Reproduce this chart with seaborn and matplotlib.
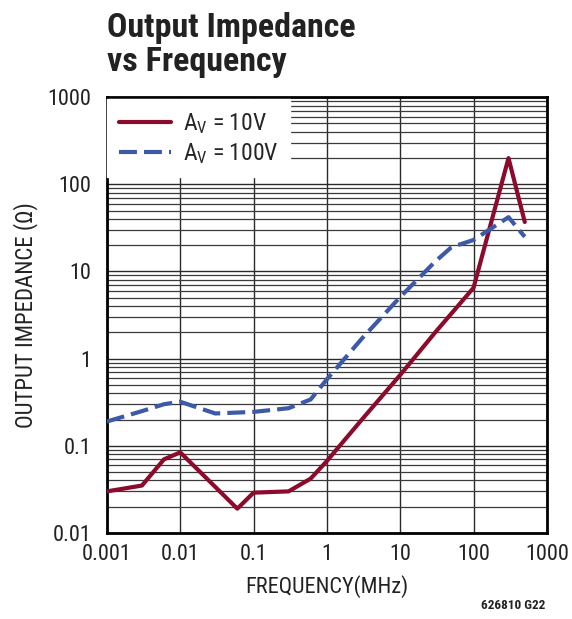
import numpy as np
import pandas as pd
import matplotlib
matplotlib.use("Agg")
import matplotlib.pyplot as plt
from matplotlib import font_manager
import seaborn as sns
from matplotlib.ticker import FixedLocator, FixedFormatter, NullLocator, LogLocator

# Output impedance data (frequency in MHz, impedance in ohms)
freq_av10 = [0.001, 0.003, 0.006, 0.01, 0.06, 0.1, 0.3, 0.6, 1, 3, 10, 30, 100, 300, 500]
z_av10 = [0.030, 0.035, 0.070, 0.084, 0.019, 0.029, 0.030, 0.042, 0.067, 0.20, 0.65, 2.0, 6.5, 200, 37]

freq_av100 = [0.001, 0.003, 0.006, 0.01, 0.03, 0.1, 0.3, 0.6, 1, 3, 10, 30, 50, 100, 300, 500]
z_av100 = [0.19, 0.25, 0.30, 0.32, 0.235, 0.245, 0.27, 0.34, 0.58, 1.7, 5.1, 13, 19, 23, 42, 25]

x_ticks = [0.001, 0.01, 0.1, 1, 10, 100, 1000]
x_labels = ["0.001", "0.01", "0.1", "1", "10", "100", "1000"]
y_ticks = [0.01, 0.1, 1, 10, 100, 1000]
y_labels = ["0.01", "0.1", "1", "10", "100", "1000"]

label_av10 = r"A$_\mathregular{V}$ = 10V"
label_av100 = r"A$_\mathregular{V}$ = 100V"

df10 = pd.DataFrame({"freq": freq_av10, "z": z_av10})
df100 = pd.DataFrame({"freq": freq_av100, "z": z_av100})


def pick_narrow_family():
    """Return a condensed sans family if one is installed, else None."""
    names = {f.name for f in font_manager.fontManager.ttflist}
    for cand in ["Liberation Sans Narrow", "Roboto Condensed", "Open Sans Condensed",
                 "DejaVu Sans Condensed", "Arial Narrow", "Nimbus Sans Narrow"]:
        if cand in names:
            return cand
    return None


narrow = pick_narrow_family()
sns.set_theme(style="white")
FONT = ([narrow] if narrow else []) + ["Liberation Sans", "DejaVu Sans"]
plt.rcParams["font.family"] = FONT
plt.rcParams["mathtext.fontset"] = "custom"
plt.rcParams["mathtext.rm"] = FONT[0]
plt.rcParams["mathtext.it"] = FONT[0]

# condensed faces get a larger point size than the regular-width fallback
scale = 1.0 if narrow else 0.85

fig = plt.figure(figsize=(5.72, 6.19), dpi=100)
ax = fig.add_axes([0.187, 0.139, 0.769, 0.704])

red = "#8c0a2c"
blue = "#3d5aa8"

sns.lineplot(data=df10, x="freq", y="z", ax=ax, color=red, lw=3.0,
             label=label_av10, zorder=3)
sns.lineplot(data=df100, x="freq", y="z", ax=ax, color=blue, lw=3.0,
             label=label_av100, zorder=3)
ax.lines[1].set_dashes([4.3, 1.7])

ax.set_xscale("log")
ax.set_yscale("log")
ax.set_xlim(0.001, 1000)
ax.set_ylim(0.01, 1000)

ax.xaxis.set_major_locator(FixedLocator(x_ticks))
ax.xaxis.set_major_formatter(FixedFormatter(x_labels))
ax.xaxis.set_minor_locator(NullLocator())
ax.yaxis.set_major_locator(FixedLocator(y_ticks))
ax.yaxis.set_major_formatter(FixedFormatter(y_labels))
ax.yaxis.set_minor_locator(LogLocator(base=10, subs=np.arange(2, 10)))

ax.grid(True, which="major", axis="both", color="#2a2a2a", lw=1.0, zorder=1)
ax.grid(True, which="minor", axis="y", color="#3a3a3a", lw=0.9, zorder=1)
ax.set_axisbelow(True)

ax.tick_params(axis="both", which="both", length=0, labelsize=16 * scale,
               colors="#222222")
ax.tick_params(axis="x", pad=8)
ax.tick_params(axis="y", pad=11)

for s in ax.spines.values():
    s.set_color("black")
    s.set_linewidth(2.0)
    s.set_visible(True)

ax.set_xlabel("FREQUENCY(MHz)", fontsize=16 * scale, color="#222222", labelpad=7)
ax.set_ylabel("OUTPUT IMPEDANCE (Ω)", fontsize=16.5 * scale, color="#222222",
              labelpad=7)

leg = ax.legend(loc="upper left", bbox_to_anchor=(0.0, 0.995), frameon=True,
                fontsize=17 * scale, handlelength=2.2, handletextpad=0.5,
                borderpad=0.5, labelspacing=0.2, fancybox=False,
                borderaxespad=0.0)
leg.get_frame().set_facecolor("white")
leg.get_frame().set_edgecolor("white")
leg.get_frame().set_alpha(1.0)
leg.set_zorder(5)

fig.text(0.187, 0.981, "Output Impedance\nvs Frequency", ha="left", va="top",
         fontsize=24.5 * scale, fontweight="bold", color="#222222",
         linespacing=1.08)
fig.text(0.897, 0.012, "626810 G22", ha="center", va="bottom",
         fontsize=9.5 * scale, fontweight="bold", color="#222222")

fig.savefig("out.png", dpi=100)
